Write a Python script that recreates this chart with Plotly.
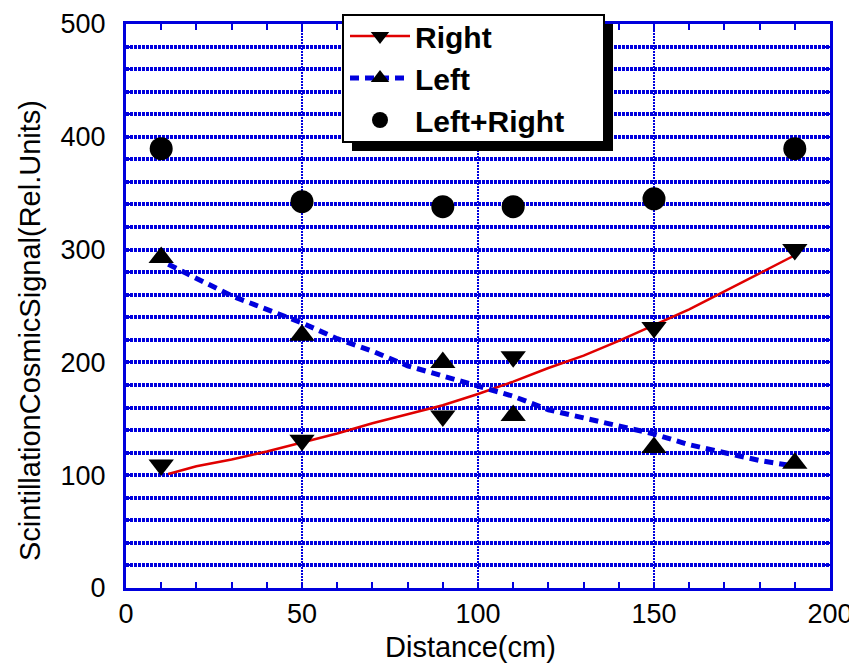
import plotly.graph_objects as go

# ---- data ----
dist = [10, 50, 90, 110, 150, 190]
right_vals = [109, 131, 152.5, 205, 231, 300]
left_vals = [293, 224, 200, 153, 124.5, 110.5]
sum_vals = [389.5, 342.5, 338, 338, 345, 389.5]

right_fit_x = [12, 20, 30, 40, 50, 60, 70, 80, 90, 100, 110, 120, 130, 140, 150, 160, 170, 180, 190]
right_fit_y = [101, 108, 114, 121, 129, 137, 146, 154, 162, 172, 183, 195, 206, 219, 233, 247, 263, 279, 295]
left_fit_x = [12, 20, 30, 40, 50, 60, 70, 80, 90, 100, 110, 120, 130, 140, 150, 160, 170, 180, 188]
left_fit_y = [287, 275, 259, 247, 235, 221, 210, 197, 188, 179, 170, 158, 151, 143, 136.5, 127, 120, 113, 109]

x_title = "Distance(cm)"
y_title = "ScintillationCosmicSignal(Rel.Units)"

BLUE = "#0000DD"
RED = "#E00000"
FONT = "Liberation Sans, Arial, sans-serif"

fig = go.Figure()

# fitted curves
fig.add_trace(go.Scatter(x=right_fit_x, y=right_fit_y, mode="lines",
                         line=dict(color=RED, width=2.5), showlegend=False))
fig.add_trace(go.Scatter(x=left_fit_x, y=left_fit_y, mode="lines",
                         line=dict(color=BLUE, width=5, dash="9px,6px"), showlegend=False))
# measured points
fig.add_trace(go.Scatter(x=dist, y=right_vals, mode="markers",
                         marker=dict(symbol="triangle-down", size=22, color="black"),
                         showlegend=False))
fig.add_trace(go.Scatter(x=dist, y=left_vals, mode="markers",
                         marker=dict(symbol="triangle-up", size=22, color="black"),
                         showlegend=False))
fig.add_trace(go.Scatter(x=dist, y=sum_vals, mode="markers",
                         marker=dict(symbol="circle", size=23, color="black"),
                         showlegend=False))
# legend entries
fig.add_trace(go.Scatter(x=[None], y=[None], mode="lines+markers", name="Right",
                         line=dict(color=RED, width=2.5),
                         marker=dict(symbol="triangle-down", size=22, color="black")))
fig.add_trace(go.Scatter(x=[None], y=[None], mode="lines+markers", name="Left",
                         line=dict(color=BLUE, width=5, dash="9px,6px"),
                         marker=dict(symbol="triangle-up", size=22, color="black")))
fig.add_trace(go.Scatter(x=[None], y=[None], mode="markers", name="Left+Right",
                         marker=dict(symbol="circle", size=23, color="black")))

# page body has an 8px margin; plot area in screen pixels: x 126..830, y 24..588
OFF = 8
W, H = 857 - OFF, 669 - OFF
PL, PR, PT, PB = 126, 830, 24, 588
L, T = PL - OFF, PT - OFF
R, B = 857 - PR, 669 - PB
pw, ph = PR - PL, PB - PT


def px2x(px):
    return (px - PL) / pw


def px2y(py):
    return (PB - py) / ph


axis_common = dict(
    showline=True, linecolor=BLUE, linewidth=3, mirror="allticks",
    ticks="inside", ticklen=6, tickwidth=2, tickcolor=BLUE,
    zeroline=False, showgrid=True, gridcolor=BLUE, automargin=False,
    tickfont=dict(family=FONT, size=27, color="black"),
)

fig.update_xaxes(range=[0, 200], dtick=50, tick0=0, gridwidth=2, griddash="2px,1px",
                 ticklabelstandoff=0,
                 minor=dict(dtick=10, ticks="inside", ticklen=6, tickwidth=2,
                            tickcolor=BLUE, showgrid=False),
                 **axis_common)
fig.update_yaxes(range=[0, 500], dtick=100, tick0=0, gridwidth=3.5, griddash="3px,1px",
                 ticklabelstandoff=12,
                 minor=dict(dtick=20, ticks="inside", ticklen=6, tickwidth=2,
                            tickcolor=BLUE, showgrid=True, gridcolor=BLUE,
                            gridwidth=3.5, griddash="3px,1px"),
                 **axis_common)

# legend box geometry (screen pixels)
lg_left, lg_top, lg_right, lg_bottom = 343, 15, 604, 142
shadow = 9

fig.add_shape(type="rect", xref="paper", yref="paper", layer="above",
              x0=px2x(lg_left + shadow), x1=px2x(lg_right + shadow),
              y0=px2y(lg_bottom + shadow), y1=px2y(lg_top + shadow),
              fillcolor="black", line=dict(width=0))
fig.add_shape(type="rect", xref="paper", yref="paper", layer="above",
              x0=px2x(lg_left), x1=px2x(lg_right),
              y0=px2y(lg_bottom), y1=px2y(lg_top),
              fillcolor="white", line=dict(color="black", width=2))

fig.update_layout(
    width=W, height=H,
    margin=dict(l=L, r=R, t=T, b=B, autoexpand=False),
    plot_bgcolor="white", paper_bgcolor="white",
    font=dict(family=FONT, color="black"),
    legend=dict(x=px2x(lg_left + 2), y=px2y(10), xanchor="left", yanchor="top",
                bgcolor="rgba(0,0,0,0)", borderwidth=0,
                font=dict(family=FONT, size=30, weight="bold", color="black"),
                itemwidth=60, tracegroupgap=0),
    annotations=[
        dict(text=x_title, xref="paper", yref="paper", x=px2x(470), y=px2y(647),
             xanchor="center", yanchor="middle", showarrow=False,
             font=dict(family=FONT, size=29, color="black")),
        dict(text=y_title, xref="paper", yref="paper", x=px2x(30), y=px2y(331),
             xanchor="center", yanchor="middle", showarrow=False, textangle=-90,
             font=dict(family=FONT, size=29, color="black")),
    ],
)

fig.write_html("out.html")
